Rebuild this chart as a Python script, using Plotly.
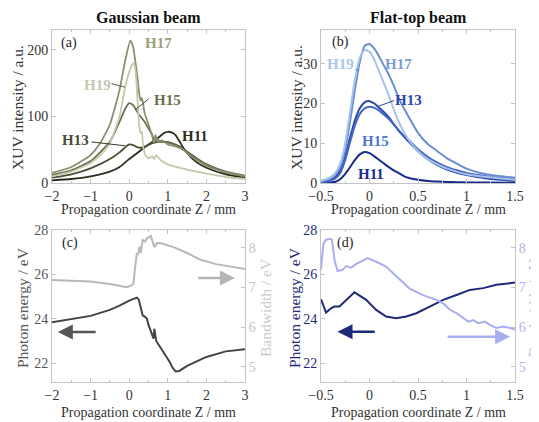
import plotly.graph_objects as go

# ---------------- data ----------------
# (a) Gaussian beam, XUV intensity vs Z
h11a_z = [-2, -1.5, -1, -0.5, -0.25, 0, 0.25, 0.5, 0.75, 0.9, 1.0, 1.1, 1.2, 1.3, 1.4, 1.5, 1.75, 2, 2.5, 3]
h11a_i = [4, 6, 10, 17, 24, 36, 47, 58, 68, 75, 77, 76, 72, 63, 53, 45, 31, 23, 13, 8]
h13a_z = [-2, -1.5, -1, -0.5, -0.25, -0.1, 0, 0.1, 0.2, 0.3, 0.45, 0.6, 0.75, 0.9, 1.1, 1.3, 1.5, 1.75, 2, 2.5, 3]
h13a_i = [8, 13, 22, 36, 46, 54, 58, 57, 54, 53, 56, 60, 62, 62, 60, 55, 47, 37, 28, 16, 10]
h15a_z = [-2, -1.5, -1, -0.5, -0.25, -0.1, 0, 0.1, 0.25, 0.4, 0.5, 0.6, 0.65, 0.7, 0.8, 1.0, 1.2, 1.4, 1.6, 2, 2.5, 3]
h15a_i = [12, 19, 33, 62, 92, 112, 120, 117, 103, 92, 82, 72, 60, 68, 62, 61, 57, 50, 42, 28, 17, 11]
h17a_z = [-2, -1.5, -1, -0.75, -0.5, -0.25, -0.1, 0.03, 0.1, 0.2, 0.27, 0.3, 0.33, 0.4, 0.5, 0.6, 0.64, 0.68, 0.75, 0.85, 1.0, 1.2, 1.4, 1.6, 2, 2.5, 3]
h17a_i = [15, 24, 42, 60, 88, 140, 185, 214, 205, 165, 130, 124, 128, 105, 88, 70, 60, 72, 62, 64, 58, 55, 50, 40, 26, 16, 10]
h19a_z = [-2, -1.5, -1, -0.75, -0.5, -0.25, -0.1, 0.05, 0.12, 0.17, 0.22, 0.26, 0.3, 0.33, 0.36, 0.42, 0.5, 0.6, 0.65, 0.7, 0.8, 1.0, 1.5, 2, 2.5, 3]
h19a_i = [10, 17, 30, 42, 60, 100, 145, 175, 181, 165, 120, 85, 75, 77, 55, 42, 37, 40, 36, 42, 35, 28, 20, 14, 9, 6]

# (b) Flat-top beam, XUV intensity vs Z
zb = [-0.5, -0.45, -0.4, -0.35, -0.3, -0.25, -0.2, -0.15, -0.1, -0.05, 0, 0.05, 0.1, 0.15, 0.2,
      0.25, 0.3, 0.35, 0.4, 0.5, 0.6, 0.7, 0.8, 0.9, 1.0, 1.2, 1.5]
h11b = [0.0, 0.05, 0.1, 0.3, 1.0, 2.3, 4.0, 5.8, 7.2, 7.8, 7.5, 6.7, 5.8, 4.9, 4.0, 3.2, 2.5, 1.8, 1.3, 0.8, 0.5, 0.35, 0.25, 0.2, 0.15, 0.1, 0.05]
h13b = [0.2, 0.3, 0.7, 1.5, 3.2, 6.8, 11.5, 15.8, 18.8, 20.3, 20.6, 20.0, 18.9, 17.8, 16.5, 14.8, 13.2, 11.8, 10.5, 8.0, 6.0, 4.5, 3.4, 2.6, 2.0, 1.2, 0.5]
h15b = [0.2, 0.3, 0.6, 1.2, 2.6, 5.8, 10.3, 14.5, 17.4, 18.8, 19.2, 18.9, 18.2, 17.2, 16.1, 14.7, 13.3, 12.0, 10.9, 8.5, 6.6, 5.1, 4.0, 3.2, 2.5, 1.7, 1.0]
h17b = [0.5, 0.8, 1.3, 2.2, 4.2, 8.5, 15.5, 23.5, 30.5, 34.5, 35.0, 33.8, 31.8, 29.5, 27.2, 24.5, 21.5, 19.0, 16.8, 12.6, 9.8, 8.0, 6.2, 4.9, 3.6, 2.2, 1.3]
h19b = [0.5, 0.9, 1.5, 2.6, 5.0, 10.0, 18.0, 26.0, 31.5, 33.5, 33.0, 31.0, 28.0, 25.0, 22.0, 18.5, 15.5, 13.0, 11.0, 8.0, 6.0, 4.7, 3.6, 2.8, 2.2, 1.5, 0.8]

# (c) Gaussian beam: photon energy and bandwidth
ec_z = [-2, -1.5, -1, -0.5, -0.25, 0, 0.1, 0.2, 0.25, 0.3, 0.35, 0.4, 0.46, 0.5, 0.53, 0.56, 0.6, 0.63, 0.65,
        0.7, 0.8, 0.9, 0.97, 1.05, 1.12, 1.2, 1.3, 1.5, 1.75, 2, 2.5, 3]
ec_e = [23.84, 23.98, 24.13, 24.4, 24.59, 24.82, 24.9, 24.95, 24.85, 24.55, 24.15, 24.1, 24.0, 23.72, 23.6, 23.45,
        23.25, 23.1, 23.55, 23.0, 22.74, 22.5, 22.3, 22.05, 21.8, 21.63, 21.65, 21.88, 22.08, 22.28, 22.53, 22.63]
bc_z = [-2, -1.5, -1, -0.5, -0.2, -0.06, 0.05, 0.11, 0.155, 0.2, 0.225, 0.265, 0.3, 0.35, 0.41, 0.46, 0.56,
        0.61, 0.65, 0.72, 0.8, 0.95, 1.15, 1.5, 1.85, 2.25, 2.7, 3]
bc_w = [7.19, 7.17, 7.15, 7.09, 7.04, 7.01, 7.05, 7.1, 7.53, 7.87, 7.82, 8.03, 7.87, 8.2, 8.16, 8.24, 8.3,
        8.12, 8.02, 8.12, 8.12, 8.08, 8.02, 7.87, 7.7, 7.59, 7.51, 7.47]

# (d) Flat-top beam: photon energy and bandwidth
ed_z = [-0.5, -0.448, -0.397, -0.362, -0.31, -0.259, -0.207, -0.155, -0.034, 0.069, 0.172, 0.276, 0.379,
        0.483, 0.621, 0.759, 0.897, 1.034, 1.172, 1.31, 1.5]
ed_e = [24.88, 24.28, 24.47, 24.55, 24.55, 24.77, 25.0, 25.19, 24.85, 24.4, 24.1, 24.02, 24.1, 24.25, 24.55,
        24.85, 25.07, 25.3, 25.38, 25.53, 25.63]
bd_z = [-0.5, -0.476, -0.45, -0.41, -0.386, -0.36, -0.33, -0.28, -0.24, -0.19, -0.14, -0.07, -0.02, 0.07,
        0.17, 0.28, 0.41, 0.55, 0.69, 0.76, 0.83, 0.9, 0.97, 1.02, 1.07, 1.12, 1.19, 1.24, 1.31, 1.38, 1.45, 1.5]
bd_w = [7.45, 8.1, 8.2, 8.23, 8.2, 7.68, 7.42, 7.44, 7.54, 7.5, 7.59, 7.68, 7.74, 7.65, 7.53, 7.28, 6.98,
        6.81, 6.69, 6.6, 6.44, 6.35, 6.23, 6.14, 6.18, 6.1, 6.14, 6.06, 5.98, 6.02, 5.98, 5.94]

harmonics = ["H11", "H13", "H15", "H17", "H19"]
gauss_series = [(h11a_z, h11a_i), (h13a_z, h13a_i), (h15a_z, h15a_i), (h17a_z, h17a_i), (h19a_z, h19a_i)]
flat_series = [h11b, h13b, h15b, h17b, h19b]

# label anchors (data coords) for harmonic labels
gauss_labels = {"H11": (1.70, 70), "H13": (-1.38, 65), "H15": (0.99, 125), "H17": (0.75, 210), "H19": (-0.82, 148)}
flat_labels = {"H11": (0.02, 2.3), "H13": (0.40, 20.8), "H15": (0.06, 10.6), "H17": (0.295, 30.0), "H19": (-0.295, 30.0)}

# ---------------- styles ----------------
OFF = 8                      # page body margin of the html page
W, H = 539 - OFF, 422 - OFF  # figure size so that the figure fills the window
FONT = "Liberation Serif"
gcol = {"H11": "#2b2d1d", "H13": "#4a4c34", "H15": "#6c6e50", "H17": "#8c8e6e", "H19": "#c6c8aa"}
glab = {"H11": "#2b2d1d", "H13": "#4a4c34", "H15": "#6c6e50", "H17": "#9c9e7e", "H19": "#c6c8aa"}
fcol = {"H11": "#1a2a8a", "H13": "#2a48aa", "H15": "#4668c2", "H17": "#6a8ed2", "H19": "#a6c2ec"}
flab = {"H11": "#1a2a8a", "H13": "#2a48aa", "H15": "#5074c6", "H17": "#7c9ad8", "H19": "#aac6ee"}
E_C, B_C = "#444444", "#b8b8b8"
E_D, B_D = "#1e2a78", "#a8aef0"
FRAME = "#c4c4c4"


def fx(x):
    return (x - OFF) / W


def fy(y):
    return 1 - (y - OFF) / H


def px(x, y):
    return fx(x), fy(y)


fig = go.Figure()

for h, (z, v) in zip(harmonics, gauss_series):
    fig.add_trace(go.Scatter(x=z, y=v, mode="lines", line=dict(color=gcol[h], width=1.8, shape="spline", smoothing=0.5),
                             xaxis="x", yaxis="y", showlegend=False))
for h, v in zip(harmonics, flat_series):
    fig.add_trace(go.Scatter(x=zb, y=v, mode="lines", line=dict(color=fcol[h], width=2, shape="spline", smoothing=0.6),
                             xaxis="x2", yaxis="y2", showlegend=False))
fig.add_trace(go.Scatter(x=bc_z, y=bc_w, mode="lines", line=dict(color=B_C, width=2), xaxis="x3", yaxis="y5", showlegend=False))
fig.add_trace(go.Scatter(x=ec_z, y=ec_e, mode="lines", line=dict(color=E_C, width=2), xaxis="x3", yaxis="y3", showlegend=False))
fig.add_trace(go.Scatter(x=bd_z, y=bd_w, mode="lines", line=dict(color=B_D, width=2), xaxis="x4", yaxis="y6", showlegend=False))
fig.add_trace(go.Scatter(x=ed_z, y=ed_e, mode="lines", line=dict(color=E_D, width=2), xaxis="x4", yaxis="y4", showlegend=False))

tickfont = dict(family=FONT, size=14, color="#333333")
xa_left = [fx(52), fx(245)]
xa_right = [fx(321), fx(515)]
ya_top = [fy(183), fy(30)]
ya_bot = [fy(382), fy(230)]


def xax(dom, anchor, rng, dtick, minor):
    return dict(domain=dom, anchor=anchor, range=rng, dtick=dtick, tick0=rng[0], showline=True, linecolor=FRAME,
                linewidth=1, mirror="ticks", ticks="inside", ticklen=4, tickcolor=FRAME, showgrid=False,
                zeroline=False, tickfont=tickfont, automargin=False, ticklabelstandoff=0,
                minor=dict(dtick=minor, ticks="inside", ticklen=2, tickcolor=FRAME))


def yax(dom, anchor, rng, tickvals, color, mirror="ticks", side="left", overlaying=None):
    d = dict(domain=dom, anchor=anchor, range=rng, tickvals=tickvals, showline=True, linecolor=FRAME, linewidth=1,
             mirror=mirror, ticks="inside", ticklen=4, tickcolor=FRAME, showgrid=False, zeroline=False,
             tickfont=dict(family=FONT, size=14, color=color), side=side, automargin=False)
    if overlaying:
        d["overlaying"] = overlaying
    return d


E_RANGE = [21.15, 28]
B_RANGE = [4.62, 8.45]

fig.update_layout(
    width=W, height=H, margin=dict(l=0, r=0, t=0, b=0, pad=0, autoexpand=False),
    paper_bgcolor="white", plot_bgcolor="white",
    font=dict(family=FONT, size=14, color="#222222"),
    xaxis=xax(xa_left, "y", [-2, 3], 1, 0.5),
    yaxis=yax(ya_top, "x", [0, 230], [0, 100, 200], "#333333"),
    xaxis2=xax(xa_right, "y2", [-0.5, 1.5], 0.5, 0.25),
    yaxis2=yax(ya_top, "x2", [0, 38.5], [0, 10, 20, 30], "#333333"),
    xaxis3=xax(xa_left, "y3", [-2, 3], 1, 0.5),
    yaxis3=yax(ya_bot, "x3", E_RANGE, [22, 24, 26, 28], "#555555", mirror=False),
    xaxis4=xax(xa_right, "y4", [-0.5, 1.5], 0.5, 0.25),
    yaxis4=yax(ya_bot, "x4", E_RANGE, [22, 24, 26, 28], E_D, mirror=False),
    yaxis5=yax(ya_bot, "x3", B_RANGE, [5, 6, 7, 8], "#c4c4c4", mirror=False, side="right", overlaying="y3"),
    yaxis6=yax(ya_bot, "x4", B_RANGE, [5, 6, 7, 8], "#b0b4ea", mirror=False, side="right", overlaying="y4"),
)

ann = []


def text(xp, yp, s, size=14, color="#222222", bold=False, angle=0):
    x, y = px(xp, yp)
    ann.append(dict(x=x, y=y, xref="paper", yref="paper", text=f"<b>{s}</b>" if bold else s, showarrow=False,
                    textangle=angle, xanchor="center", yanchor="middle",
                    font=dict(family=FONT, size=size, color=color)))


# titles
text(148, 18, "Gaussian beam", size=16, color="#111111", bold=True)
text(418, 18, "Flat-top beam", size=16, color="#111111", bold=True)
for xc in (148, 418):
    text(xc, 210, "Propagation coordinate Z / mm", size=14, color="#333333")
    text(xc, 412, "Propagation coordinate Z / mm", size=14, color="#333333")
text(18, 108, "XUV intensity / a.u.", size=15.5, color="#333333", angle=-90)
text(297, 108, "XUV intensity / a.u.", size=15.5, color="#333333", angle=-90)
text(22, 308, "Photon energy / eV", size=15.5, color="#555555", angle=-90)
text(265, 308, "Bandwidth / eV", size=15.5, color="#cccccc", angle=-90)
text(294, 308, "Photon energy / eV", size=15.5, color=E_D, angle=-90)
text(533, 308, "Bandwidth / eV", size=15.5, color="#b4b8ee", angle=-90)
# panel letters
text(69, 43, "(a)", size=14, color="#222222")
text(340, 42, "(b)", size=14, color="#222222")
text(70, 243, "(c)", size=14, color="#222222")
text(345, 243, "(d)", size=14, color="#222222")

# harmonic labels
for h in harmonics:
    gx, gy = gauss_labels[h]
    ann.append(dict(x=gx, y=gy, xref="x", yref="y", text=f"<b>{h}</b>", showarrow=False,
                    font=dict(family=FONT, size=15, color=glab[h])))
    lx, ly = flat_labels[h]
    ann.append(dict(x=lx, y=ly, xref="x2", yref="y2", text=f"<b>{h}</b>", showarrow=False,
                    font=dict(family=FONT, size=15, color=flab[h])))


def leader(xr, yr, x0, y0, x1, y1, color):
    ann.append(dict(x=x1, y=y1, ax=x0, ay=y0, xref=xr, yref=yr, axref=xr, ayref=yr, text="", showarrow=True,
                    arrowhead=0, arrowwidth=1, arrowcolor=color))


leader("x", "y", -0.50, 150, -0.11, 144, "#5c5e44")
leader("x", "y", 0.54, 128, 0.15, 110, "#4a4c34")
leader("x", "y", -1.02, 62, -0.11, 56, "#3a3c2a")
leader("x2", "y2", -0.16, 28.8, -0.11, 28.2, "#4668c2")
leader("x2", "y2", 0.27, 20.9, 0.08, 19.2, "#2a48aa")


def arrow(xr, yr, x_head, x_tail, yv, color):
    ann.append(dict(x=x_head, y=yv, ax=x_tail, ay=yv, xref=xr, yref=yr, axref=xr, ayref=yr, text="", showarrow=True,
                    arrowhead=2, arrowsize=1.2, arrowwidth=2.5, arrowcolor=color))


arrow("x3", "y3", -1.85, -0.83, 23.4, "#555555")
arrow("x3", "y5", 2.74, 1.75, 7.24, "#b4b4b4")
arrow("x4", "y4", -0.33, 0.07, 23.42, E_D)
arrow("x4", "y6", 1.45, 0.79, 5.76, B_D)

fig.update_layout(annotations=ann)
fig.write_html("out.html")
